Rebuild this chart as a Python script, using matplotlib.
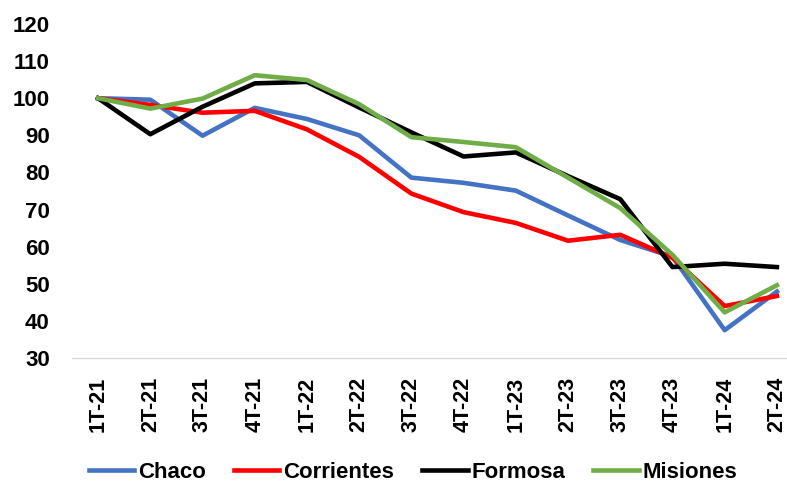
import matplotlib
matplotlib.use("Agg")
import matplotlib.pyplot as plt

quarters = ["1T-21", "2T-21", "3T-21", "4T-21", "1T-22", "2T-22", "3T-22",
            "4T-22", "1T-23", "2T-23", "3T-23", "4T-23", "1T-24", "2T-24"]

chaco = [100, 99.6, 89.9, 97.4, 94.4, 90.0, 78.6, 77.2, 75.1, 68.4, 61.8,
         57.3, 37.5, 47.9]
corrientes = [100, 98.2, 96.1, 96.6, 91.6, 84.2, 74.3, 69.3, 66.4, 61.6,
              63.2, 57.0, 44.0, 46.7]
formosa = [100, 90.3, 97.7, 104.0, 104.4, 97.5, 90.8, 84.3, 85.4, 79.0,
           72.8, 54.5, 55.4, 54.5]
misiones = [100, 97.2, 99.9, 106.2, 104.9, 98.4, 89.5, 88.2, 86.8, 78.6,
            70.4, 57.8, 42.3, 49.6]

series = [
    ("Chaco", chaco, "#4472C4"),
    ("Corrientes", corrientes, "#FF0000"),
    ("Formosa", formosa, "#000000"),
    ("Misiones", misiones, "#70AD47"),
]


def main():
    plt.rcParams['font.family'] = ['Liberation Sans', 'DejaVu Sans']
    plt.rcParams['font.weight'] = 'bold'

    fig = plt.figure(figsize=(7.87, 4.82), dpi=100)
    ax = fig.add_axes([72 / 787, 124 / 482, 731 / 787, 334 / 482])

    x = list(range(len(quarters)))
    for name, values, color in series:
        ax.plot(x, values, color=color, linewidth=3.3, label=name)

    ax.set_xlim(-0.5, len(quarters) - 0.5)
    ax.set_ylim(30, 120)
    ax.set_yticks(range(30, 121, 10))
    ax.set_xticks(x)
    ax.set_xticklabels(quarters, rotation=90, fontsize=15.5,
                       fontweight='bold')
    for lbl in ax.get_yticklabels():
        lbl.set_fontsize(16)
        lbl.set_fontweight('bold')

    for side in ['top', 'right', 'left']:
        ax.spines[side].set_visible(False)
    ax.spines['bottom'].set_color('#D9D9D9')
    ax.spines['bottom'].set_linewidth(1)
    ax.tick_params(axis='both', length=0)
    ax.tick_params(axis='x', pad=13.5)
    ax.tick_params(axis='y', pad=16)

    fig.legend(loc='center', bbox_to_anchor=(413 / 787, 1 - 472 / 482),
               ncol=4, frameon=False, fontsize=16, handlelength=2.05,
               handletextpad=0.18, columnspacing=1.25)

    fig.savefig("out.png", dpi=100)


if __name__ == "__main__":
    main()
